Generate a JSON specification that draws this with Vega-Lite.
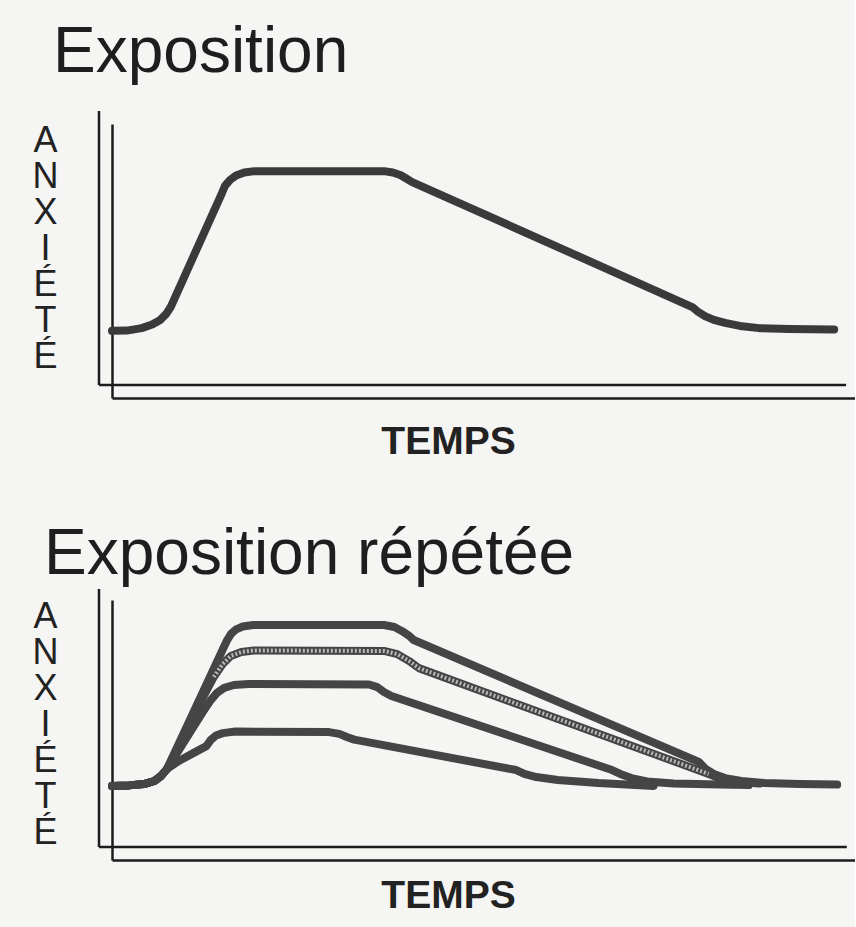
{
  "$schema": "https://vega.github.io/schema/vega-lite/v6.json",
  "background": "#f5f5f3",
  "padding": {"left": 32, "top": 20, "right": 0, "bottom": 12},
  "spacing": 61,
  "config": {
    "view": {"stroke": null},
    "font": "Liberation Sans",
    "axis": {"domainColor": "#1c1c1c", "domainWidth": 2.5, "ticks": false, "labels": false, "grid": false, "titleColor": "#222222", "titleFont": "Liberation Sans"},
    "title": {"font": "Liberation Sans", "fontWeight": "normal", "fontSize": 64, "color": "#1e1e1e", "anchor": "start", "frame": "group"}
  },
  "datasets": {
    "exposition": [
      {"t": 0, "anxiete": 24.5}, {"t": 2.0, "anxiete": 24.6}, {"t": 4.0, "anxiete": 25.5}, {"t": 5.4, "anxiete": 26.8},
      {"t": 6.5, "anxiete": 28.5}, {"t": 7.3, "anxiete": 30.7}, {"t": 7.9, "anxiete": 33.2}, {"t": 14.8, "anxiete": 74.8},
      {"t": 15.2, "anxiete": 77.4}, {"t": 15.9, "anxiete": 79.6}, {"t": 16.7, "anxiete": 81.2}, {"t": 17.8, "anxiete": 82.3},
      {"t": 19.2, "anxiete": 82.8}, {"t": 36.6, "anxiete": 82.8}, {"t": 37.8, "anxiete": 82.3}, {"t": 38.8, "anxiete": 81.4},
      {"t": 39.6, "anxiete": 80.1}, {"t": 40.4, "anxiete": 78.8}, {"t": 78.1, "anxiete": 33.2}, {"t": 78.9, "anxiete": 31.4},
      {"t": 79.8, "anxiete": 29.9}, {"t": 81.0, "anxiete": 28.5}, {"t": 82.5, "anxiete": 27.4}, {"t": 84.5, "anxiete": 26.3},
      {"t": 87.1, "anxiete": 25.5}, {"t": 91.1, "anxiete": 25.2}, {"t": 97.2, "anxiete": 25.0}
    ],
    "repetee": [
      {"seance": 4, "t": 0, "anxiete": 28.5}, {"seance": 4, "t": 2.3, "anxiete": 28.7}, {"seance": 4, "t": 4.3, "anxiete": 29.2}, {"seance": 4, "t": 5.7, "anxiete": 30.4}, {"seance": 4, "t": 6.6, "anxiete": 32.3}, {"seance": 4, "t": 7.4, "anxiete": 35.0},
      {"seance": 4, "t": 9.0, "anxiete": 38.1}, {"seance": 4, "t": 11.0, "anxiete": 41.2}, {"seance": 4, "t": 12.7, "anxiete": 43.8}, {"seance": 4, "t": 13.3, "anxiete": 46.2},
      {"seance": 4, "t": 14.0, "anxiete": 47.9}, {"seance": 4, "t": 14.9, "anxiete": 48.8}, {"seance": 4, "t": 16.6, "anxiete": 49.4}, {"seance": 4, "t": 29.2, "anxiete": 49.2},
      {"seance": 4, "t": 30.6, "anxiete": 48.5}, {"seance": 4, "t": 31.6, "anxiete": 47.3}, {"seance": 4, "t": 32.6, "anxiete": 46.3}, {"seance": 4, "t": 54.4, "anxiete": 34.6},
      {"seance": 4, "t": 55.5, "anxiete": 33.1}, {"seance": 4, "t": 57.1, "anxiete": 31.9}, {"seance": 4, "t": 60.0, "anxiete": 30.8}, {"seance": 4, "t": 65.5, "anxiete": 29.6},
      {"seance": 4, "t": 72.9, "anxiete": 28.5},

      {"seance": 3, "t": 0, "anxiete": 28.5}, {"seance": 3, "t": 2.3, "anxiete": 28.7}, {"seance": 3, "t": 4.3, "anxiete": 29.2}, {"seance": 3, "t": 5.7, "anxiete": 30.4}, {"seance": 3, "t": 6.6, "anxiete": 32.3}, {"seance": 3, "t": 7.4, "anxiete": 35.0},
      {"seance": 3, "t": 9.7, "anxiete": 45.4}, {"seance": 3, "t": 12.4, "anxiete": 57.7}, {"seance": 3, "t": 13.3, "anxiete": 61.5}, {"seance": 3, "t": 14.1, "anxiete": 64.2},
      {"seance": 3, "t": 15.1, "anxiete": 66.2}, {"seance": 3, "t": 16.4, "anxiete": 67.3}, {"seance": 3, "t": 18.4, "anxiete": 67.7}, {"seance": 3, "t": 34.6, "anxiete": 67.5},
      {"seance": 3, "t": 35.7, "anxiete": 66.5}, {"seance": 3, "t": 36.6, "anxiete": 64.6}, {"seance": 3, "t": 37.6, "anxiete": 63.1}, {"seance": 3, "t": 67.3, "anxiete": 34.6},
      {"seance": 3, "t": 68.4, "anxiete": 33.1}, {"seance": 3, "t": 69.9, "anxiete": 31.5}, {"seance": 3, "t": 72.0, "anxiete": 30.2}, {"seance": 3, "t": 75.6, "anxiete": 29.4},
      {"seance": 3, "t": 81.7, "anxiete": 29.0}, {"seance": 3, "t": 85.7, "anxiete": 28.8},

      {"seance": 2, "t": 0, "anxiete": 28.5}, {"seance": 2, "t": 2.3, "anxiete": 28.7}, {"seance": 2, "t": 4.3, "anxiete": 29.2}, {"seance": 2, "t": 5.7, "anxiete": 30.4}, {"seance": 2, "t": 6.6, "anxiete": 32.3}, {"seance": 2, "t": 7.4, "anxiete": 35.0},
      {"seance": 2, "t": 11.7, "anxiete": 59.6}, {"seance": 2, "t": 13.7, "anxiete": 70.4}, {"seance": 2, "t": 14.9, "anxiete": 75.4}, {"seance": 2, "t": 16.0, "anxiete": 78.5},
      {"seance": 2, "t": 17.4, "anxiete": 80.0}, {"seance": 2, "t": 19.1, "anxiete": 80.6}, {"seance": 2, "t": 36.6, "anxiete": 80.4}, {"seance": 2, "t": 38.4, "anxiete": 79.2},
      {"seance": 2, "t": 40.0, "anxiete": 76.5}, {"seance": 2, "t": 41.3, "anxiete": 73.8}, {"seance": 2, "t": 80.3, "anxiete": 33.1}, {"seance": 2, "t": 81.7, "anxiete": 31.5},
      {"seance": 2, "t": 83.7, "anxiete": 30.2}, {"seance": 2, "t": 87.1, "anxiete": 29.4},

      {"seance": 1, "t": 0, "anxiete": 28.5}, {"seance": 1, "t": 2.3, "anxiete": 28.7}, {"seance": 1, "t": 4.3, "anxiete": 29.2}, {"seance": 1, "t": 5.7, "anxiete": 30.4}, {"seance": 1, "t": 6.6, "anxiete": 32.3}, {"seance": 1, "t": 7.4, "anxiete": 35.0},
      {"seance": 1, "t": 15.5, "anxiete": 84.6}, {"seance": 1, "t": 16.0, "anxiete": 86.9}, {"seance": 1, "t": 16.7, "anxiete": 88.7}, {"seance": 1, "t": 17.6, "anxiete": 89.8},
      {"seance": 1, "t": 19.0, "anxiete": 90.4}, {"seance": 1, "t": 36.6, "anxiete": 90.4}, {"seance": 1, "t": 38.0, "anxiete": 89.6}, {"seance": 1, "t": 39.0, "anxiete": 88.1},
      {"seance": 1, "t": 40.0, "anxiete": 86.2}, {"seance": 1, "t": 40.6, "anxiete": 84.6}, {"seance": 1, "t": 79.0, "anxiete": 37.7}, {"seance": 1, "t": 79.9, "anxiete": 35.0},
      {"seance": 1, "t": 81.0, "anxiete": 33.1}, {"seance": 1, "t": 82.5, "anxiete": 31.5}, {"seance": 1, "t": 84.7, "anxiete": 30.4}, {"seance": 1, "t": 87.8, "anxiete": 29.6},
      {"seance": 1, "t": 92.5, "anxiete": 29.2}, {"seance": 1, "t": 97.6, "anxiete": 29.0}
    ]
  },
  "vconcat": [
    {
      "width": 743,
      "height": 274,
      "title": {"text": "Exposition", "dx": -59, "offset": -26, "baseline": "alphabetic"},
      "layer": [
        {
          "data": {"values": [{}]},
          "mark": {"type": "rule", "color": "#1c1c1c", "strokeWidth": 2.5},
          "encoding": {
            "x": {"datum": -1.75, "type": "quantitative", "scale": {"domain": [0, 100], "nice": false, "zero": false}},
            "y": {"datum": 4.74, "type": "quantitative", "scale": {"domain": [0, 100], "nice": false, "zero": false}},
            "y2": {"datum": 104.7}
          }
        },
        {
          "data": {"values": [{}]},
          "mark": {"type": "rule", "color": "#1c1c1c", "strokeWidth": 2.5},
          "encoding": {
            "x": {"datum": -1.75, "type": "quantitative", "scale": {"domain": [0, 100], "nice": false, "zero": false}},
            "x2": {"datum": 98.8},
            "y": {"datum": 4.74, "type": "quantitative", "scale": {"domain": [0, 100], "nice": false, "zero": false}}
          }
        },
        {
          "data": {"name": "exposition"},
          "mark": {"type": "line", "color": "#3a3a3a", "strokeWidth": 8, "strokeCap": "round", "strokeJoin": "round", "interpolate": "linear"},
          "encoding": {
            "x": {"field": "t", "type": "quantitative", "scale": {"domain": [0, 100], "nice": false, "zero": false}, "title": "TEMPS",
                  "axis": {"titleFontSize": 39, "titleFontWeight": "bold", "titleX": 336, "titleY": 24, "titleBaseline": "top", "titleAlign": "center"}},
            "y": {"field": "anxiete", "type": "quantitative", "scale": {"domain": [0, 100], "nice": false, "zero": false}, "title": ["A", "N", "X", "I", "É", "T", "É"],
                  "axis": {"titleAngle": 0, "titleAlign": "center", "titleBaseline": "top", "titleX": -67, "titleY": -1, "titleFontSize": 36, "titleFontWeight": "normal", "titleLineHeight": 36}}
          }
        }
      ]
    },
    {
      "width": 743,
      "height": 260,
      "title": {"text": "Exposition répétée", "dx": -68, "offset": -50, "baseline": "alphabetic"},
      "layer": [
        {
          "data": {"values": [{}]},
          "mark": {"type": "rule", "color": "#1c1c1c", "strokeWidth": 2.5},
          "encoding": {
            "x": {"datum": -1.75, "type": "quantitative", "scale": {"domain": [0, 100], "nice": false, "zero": false}},
            "y": {"datum": 5.0, "type": "quantitative", "scale": {"domain": [0, 100], "nice": false, "zero": false}},
            "y2": {"datum": 104.2}
          }
        },
        {
          "data": {"values": [{}]},
          "mark": {"type": "rule", "color": "#1c1c1c", "strokeWidth": 2.5},
          "encoding": {
            "x": {"datum": -1.75, "type": "quantitative", "scale": {"domain": [0, 100], "nice": false, "zero": false}},
            "x2": {"datum": 98.9},
            "y": {"datum": 5.0, "type": "quantitative", "scale": {"domain": [0, 100], "nice": false, "zero": false}}
          }
        },
        {
          "data": {"name": "repetee"},
          "mark": {"type": "line", "color": "#454545", "strokeWidth": 8, "strokeCap": "round", "strokeJoin": "round", "interpolate": "linear"},
          "encoding": {
            "detail": {"field": "seance", "type": "nominal"},
            "x": {"field": "t", "type": "quantitative", "scale": {"domain": [0, 100], "nice": false, "zero": false}, "title": "TEMPS",
                  "axis": {"titleFontSize": 39, "titleFontWeight": "bold", "titleX": 336, "titleY": 16, "titleBaseline": "top", "titleAlign": "center"}},
            "y": {"field": "anxiete", "type": "quantitative", "scale": {"domain": [0, 100], "nice": false, "zero": false}, "title": ["A", "N", "X", "I", "É", "T", "É"],
                  "axis": {"titleAngle": 0, "titleAlign": "center", "titleBaseline": "top", "titleX": -67, "titleY": -1, "titleFontSize": 36, "titleFontWeight": "normal", "titleLineHeight": 36}}
          }
        },
        {
          "data": {"name": "repetee"},
          "transform": [{"filter": "datum.seance == 2 && datum.t >= 12 && datum.t <= 80.3"}],
          "mark": {"type": "line", "color": "#b8b8b8", "strokeWidth": 4, "strokeDash": [2, 2], "interpolate": "linear"},
          "encoding": {
            "x": {"field": "t", "type": "quantitative", "scale": {"domain": [0, 100], "nice": false, "zero": false}},
            "y": {"field": "anxiete", "type": "quantitative", "scale": {"domain": [0, 100], "nice": false, "zero": false}}
          }
        }
      ]
    }
  ]
}
